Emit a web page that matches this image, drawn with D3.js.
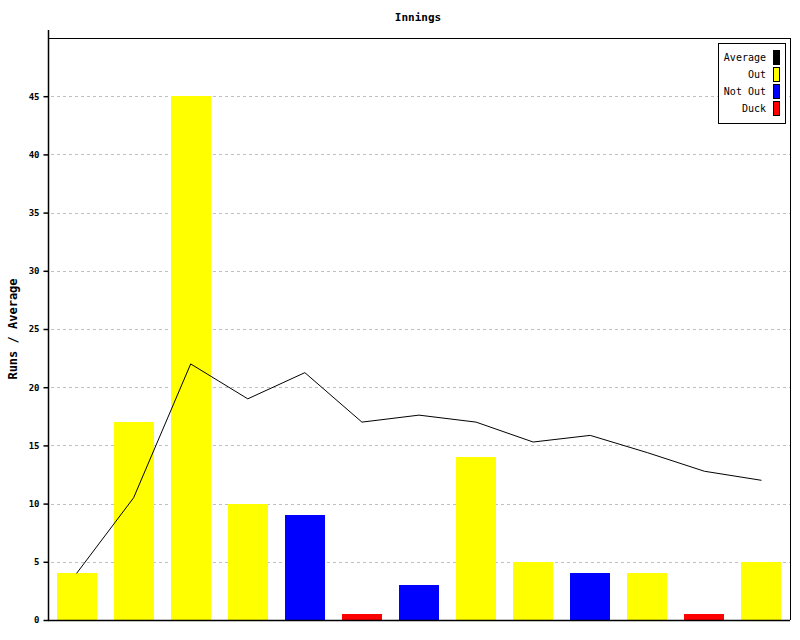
<!DOCTYPE html>
<html><head><meta charset="utf-8">
<script src="https://cdn.jsdelivr.net/npm/d3@7"></script>
<style>body{margin:0;background:#fff}svg{display:block}</style>
</head><body>
<svg id="c" width="800" height="640"></svg>
<script>
const innings = ["1","2","3","4","5","6","7","8","9","10","11","12","13"];
const runs = [4, 17, 45, 10, 9, 0.5, 3, 14, 5, 4, 4, 0.5, 5];
const status = ["Out","Out","Out","Out","Not Out","Duck","Not Out","Out","Out","Not Out","Out","Duck","Out"];
const average = [4, 10.5, 22, 19, 21.25, 17, 17.6, 17, 15.29, 15.86, 14.38, 12.78, 12];
const yTicks = [0,5,10,15,20,25,30,35,40,45];
const legendLabels = ["Average","Out","Not Out","Duck"];
const colors = {"Average":"#000000","Out":"#ffff00","Not Out":"#0000ff","Duck":"#ff0000"};

const svg = d3.select("#c");
const L=48, R=790, T=38, B=620;
const x = d3.scaleBand().domain(innings).range([L,R]).paddingInner(0.3).paddingOuter(0.15);
const y = d3.scaleLinear().domain([0,50]).range([B,T]);
const mono = "'DejaVu Sans Mono', 'Liberation Mono', monospace";

// grid
svg.append("g").selectAll("line").data(yTicks.filter(d=>d>0)).join("line")
  .attr("x1",L+3).attr("x2",R).attr("y1",d=>Math.round(y(d))+0.5).attr("y2",d=>Math.round(y(d))+0.5)
  .attr("stroke","#c0c0c0").attr("stroke-dasharray","3,3");

// bars
svg.append("g").selectAll("rect").data(runs).join("rect")
  .attr("x",(d,i)=>Math.round(x(innings[i])))
  .attr("width",Math.round(x.bandwidth()))
  .attr("y",d=>Math.round(y(d)))
  .attr("height",d=>B-Math.round(y(d)))
  .attr("fill",(d,i)=>colors[status[i]])
  .attr("shape-rendering","crispEdges");

// average line
const line = d3.line().x((d,i)=>x(innings[i])+x.bandwidth()/2).y(d=>y(d));
svg.append("path").datum(average).attr("d",line).attr("fill","none").attr("stroke","#000").attr("stroke-width",1);

// frame
svg.append("line").attr("x1",L).attr("x2",R).attr("y1",T+0.5).attr("y2",T+0.5).attr("stroke","#000");
svg.append("line").attr("x1",R+0.5).attr("x2",R+0.5).attr("y1",T).attr("y2",B).attr("stroke","#000");

// axes
const ya = d3.axisLeft(y).tickValues(yTicks).tickSize(5).tickPadding(4).tickFormat(d3.format("d"));
const gy = svg.append("g").attr("transform",`translate(${L+0.5},0)`).call(ya);
gy.select(".domain").attr("d",`M0,${B}V${T-8}`).attr("stroke","#000").attr("stroke-width",1.5);
gy.selectAll(".tick line").attr("stroke","#000").attr("stroke-width",1.5);
gy.selectAll(".tick text").attr("font-family",mono).attr("font-size",9).attr("font-weight","bold").attr("fill","#000");
svg.append("line").attr("x1",L).attr("x2",R).attr("y1",B+0.5).attr("y2",B+0.5).attr("stroke","#000").attr("stroke-width",1.5);

// title
svg.append("text").attr("x",418).attr("y",21).attr("text-anchor","middle")
  .attr("font-family",mono).attr("font-size",11).attr("font-weight","bold").text("Innings");
// y label
svg.append("text").attr("transform","translate(17,329) rotate(-90)").attr("text-anchor","middle")
  .attr("font-family",mono).attr("font-size",12).attr("font-weight","bold").text("Runs / Average");

// legend
const lg = svg.append("g");
lg.append("rect").attr("x",718.5).attr("y",43.5).attr("width",67).attr("height",80).attr("fill","#fff").attr("stroke","#000");
const li = lg.selectAll("g").data(legendLabels).join("g").attr("transform",(d,i)=>`translate(0,${50+i*17})`);
li.append("rect").attr("x",773.5).attr("y",0.5).attr("width",6).attr("height",14).attr("fill",d=>colors[d]).attr("stroke","#000");
li.append("text").attr("x",766).attr("y",11).attr("text-anchor","end").attr("font-family",mono).attr("font-size",10).text(d=>d);
</script>
</body></html>
